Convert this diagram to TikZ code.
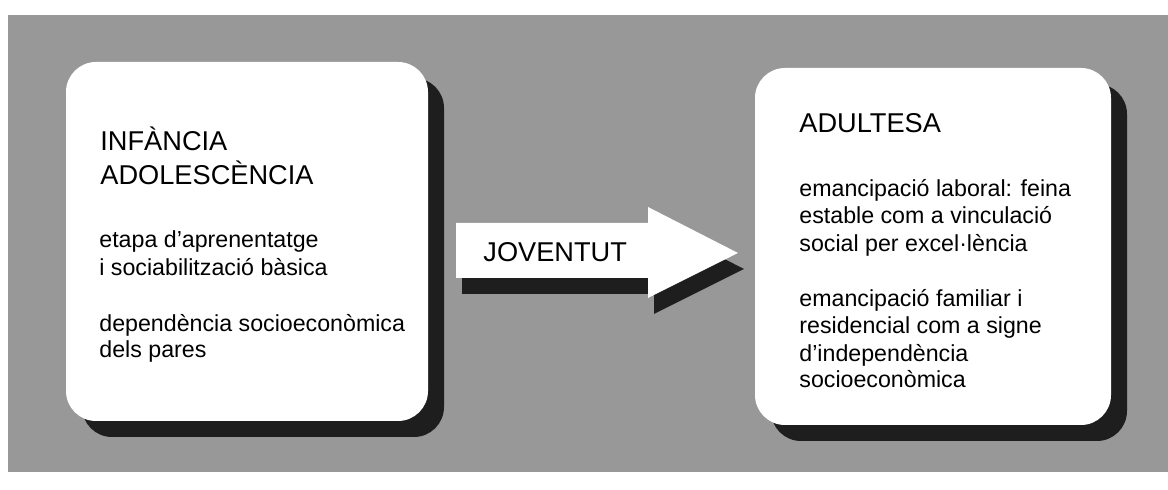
\documentclass[tikz,border=0pt]{standalone}
\usepackage{fontspec}
\setmainfont{Liberation Sans}
\usetikzlibrary{shadows}
\definecolor{bggray}{RGB}{152,152,152}
\definecolor{shadowc}{RGB}{30,30,30}
\begin{document}
\begin{tikzpicture}[x=0.5pt,y=-0.5pt,
  stagebox/.style={fill=white, draw=none, rounded corners=15pt, inner sep=0pt,
    drop shadow={shadow xshift=8pt, shadow yshift=-8pt, fill=shadowc, opacity=1}},
  head/.style={anchor=base west, inner sep=0pt, font=\fontsize{13.6pt}{16pt}\selectfont},
  body/.style={anchor=base west, inner sep=0pt, font=\fontsize{11.6pt}{14pt}\selectfont}]
\useasboundingbox (0,0) rectangle (1168,490);
\fill[white] (0,0) rectangle (1168,490);
\fill[bggray] (8,15) rectangle (1168,472);
% boxes
\node[stagebox, minimum width=181pt, minimum height=179.5pt] (left) at (247,241.5) {};
\node[stagebox, minimum width=178pt, minimum height=178.5pt] (right) at (933,246.5) {};
% arrow with shadow
\fill[shadowc] (462,239) -- (654,239) -- (654,223) -- (744,269) -- (654,314) -- (654,294) -- (462,294) -- cycle;
\fill[white] (456,223) -- (648,223) -- (648,207) -- (738,253) -- (648,298) -- (648,278) -- (456,278) -- cycle;
\node[head] (jov) at (483,262) {JOVENTUT};
% left texts
\node[head] (l1) at (100,151) {INFÀNCIA};
\node[head] (l2) at (100,185) {ADOLESCÈNCIA};
\node[body] (l3) at (99,248) {etapa d’aprenentatge};
\node[body] (l4) at (99,276) {i sociabilització bàsica};
\node[body] (l5) at (99,332) {dependència socioeconòmica};
\node[body] (l6) at (99,358) {dels pares};
% right texts
\node[head] (r1) at (799,133) {ADULTESA};
\node[body] (r2) at (799,197) {emancipació laboral: feina};
\node[body] (r3) at (799,224) {estable com a vinculació};
\node[body] (r4) at (799,252) {social per excel·lència};
\node[body] (r5) at (799,307) {emancipació familiar i};
\node[body] (r6) at (799,334) {residencial com a signe};
\node[body] (r7) at (799,362) {d’independència};
\node[body] (r8) at (799,388) {socioeconòmica};
\end{tikzpicture}
\end{document}
